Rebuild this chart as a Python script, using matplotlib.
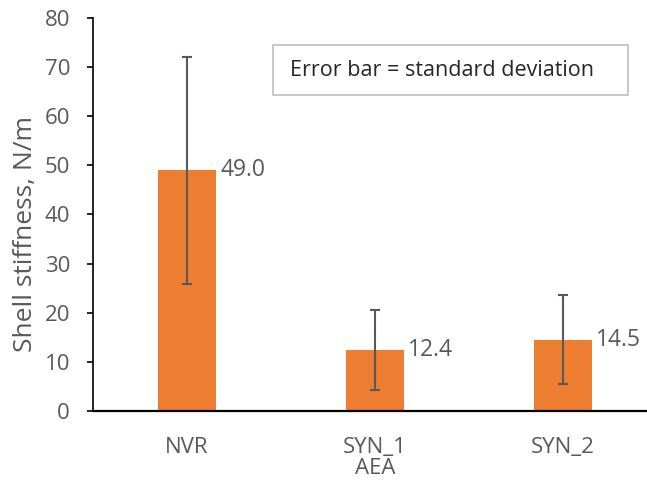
import numpy as np
import matplotlib.pyplot as plt

# data
categories = ['NVR', 'SYN_1\nAEA', 'SYN_2']
means = [49.0, 12.4, 14.5]
std_devs = [23.1, 8.2, 9.1]
y_ticks = [0, 10, 20, 30, 40, 50, 60, 70, 80]

plt.rcParams['font.family'] = ['Open Sans', 'DejaVu Sans']
grey = '#595959'
orange = '#ED7D31'

fig = plt.figure(figsize=(6.47, 4.91), dpi=100)
ax = fig.add_axes([93 / 647, 80 / 491, 564 / 647, 393 / 491])

x = np.arange(len(categories))
ax.bar(x, means, width=0.31, color=orange, zorder=2)
ax.errorbar(x, means, yerr=std_devs, fmt='none', ecolor=grey,
            elinewidth=1.5, capsize=3.8, capthick=1.5, zorder=3)

for xi, m in zip(x, means):
    ax.annotate(f'{m:.1f}', xy=(xi + 0.155, m), xytext=(3, 0),
                textcoords='offset points', ha='left', va='center',
                fontsize=16.5, color=grey)

ax.set_xlim(-0.5, 2.5)
ax.set_ylim(0, 80)
ax.set_yticks(y_ticks)
ax.set_xticks(x)
ax.set_xticklabels(categories, linespacing=1.0)
ax.tick_params(axis='y', direction='out', length=4.5, width=1.2, pad=12,
               labelsize=16, labelcolor=grey, color='black')
ax.tick_params(axis='x', length=0, labelsize=16, labelcolor=grey, pad=19)
ax.spines['top'].set_visible(False)
ax.spines['right'].set_visible(False)
ax.spines['left'].set_linewidth(1.2)
ax.spines['bottom'].set_linewidth(1.6)
ax.set_ylabel('Shell stiffness, N/m', fontsize=19, color=grey)
ax.yaxis.set_label_coords(-0.098, 0.45)

fig.text(290 / 647, 1 - 71 / 491, 'Error bar = standard deviation',
         fontsize=15.5, color='#262626', ha='left', va='center')
box = plt.Rectangle((273 / 647, 1 - 95 / 491), 355 / 647, 50 / 491,
                    transform=fig.transFigure, fill=False,
                    edgecolor='#bfbfbf', linewidth=1.2)
fig.patches.append(box)

fig.savefig('out.png', dpi=100)
